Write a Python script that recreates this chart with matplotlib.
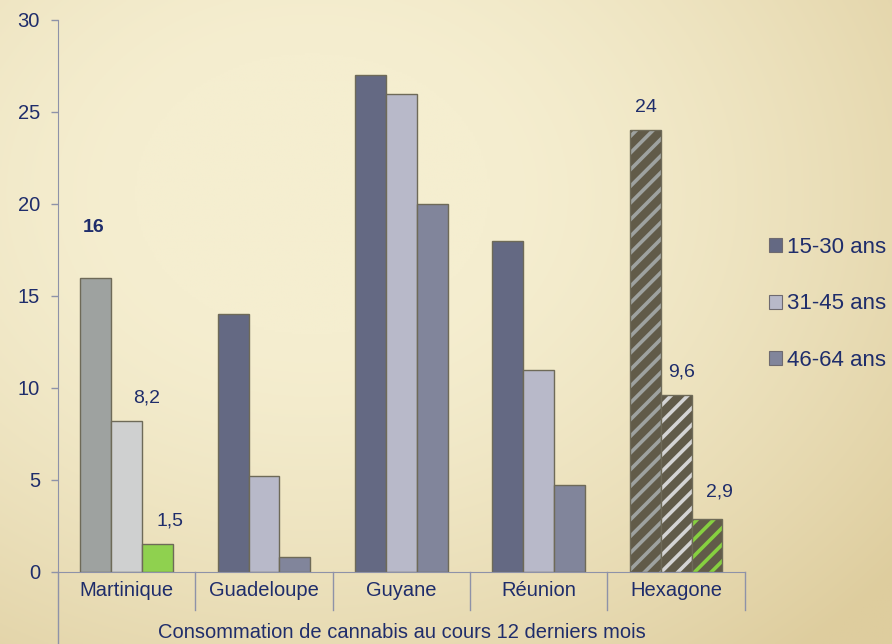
import numpy as np
import matplotlib.pyplot as plt
from matplotlib.patches import Patch

plt.rcParams['font.family'] = ['Liberation Sans', 'DejaVu Sans']
plt.rcParams['hatch.linewidth'] = 2.6

regions = ['Martinique', 'Guadeloupe', 'Guyane', 'Réunion', 'Hexagone']
series = ['15-30 ans', '31-45 ans', '46-64 ans']
age_15_30 = [16, 14, 27, 18, 24]
age_31_45 = [8.2, 5.2, 26, 11, 9.6]
age_46_64 = [1.5, 0.8, 20, 4.7, 2.9]
xlabel = 'Consommation de cannabis au cours 12 derniers mois'

# shown values: (region index, series index) -> text
shown = {(0, 0): '16', (0, 1): '8,2', (0, 2): '1,5',
         (4, 0): '24', (4, 1): '9,6', (4, 2): '2,9'}
label_offsets = {(0, 0): (-2, 50), (0, 1): (20, 23), (0, 2): (12, 23),
                 (4, 0): (1, 23), (4, 1): (5, 23), (4, 2): (12, 27)}

navy = '#1f2d6b'
base_colors = ['#646983', '#b8b9c9', '#81859b']
mart_colors = ['#9ea2a0', '#cfd0d0', '#8fd14f']
hex_stripes = ['#9ea2a0', '#d4d4d4', '#86d040']
hex_face = '#615b49'
edge = '#6e6a58'

fig = plt.figure(figsize=(8.92, 6.44), dpi=100)

# parchment background
bg = fig.add_axes([0, 0, 1, 1], zorder=-10)
yy, xx = np.mgrid[0:1:300j, 0:1:420j]
r = np.sqrt(((xx - 0.35) / 1.0) ** 2 + ((yy - 0.3) / 1.1) ** 2)
t = np.clip((r - 0.2) / 0.65, 0, 1) ** 1.4
light = np.array([245, 238, 208]) / 255
dark = np.array([222, 205, 158]) / 255
img = light[None, None, :] * (1 - t[..., None]) + dark[None, None, :] * t[..., None]
bg.imshow(img, aspect='auto', extent=[0, 1, 0, 1], origin='upper')
bg.axis('off')

ax = fig.add_axes([0.065, 0.112, 0.770, 0.857])
ax.set_facecolor('none')

x = np.arange(len(regions))
w = 0.225
data = [age_15_30, age_31_45, age_46_64]
for s in range(3):
    xs = x + (s - 1) * w
    for i, v in enumerate(data[s]):
        if i == 0:
            ax.bar(xs[i], v, w, color=mart_colors[s], edgecolor=edge, linewidth=1)
        elif i == 4:
            ax.bar(xs[i], v, w, color=hex_face, edgecolor=hex_stripes[s],
                   hatch='//', linewidth=0)
            ax.bar(xs[i], v, w, color='none', edgecolor=edge, linewidth=1)
        else:
            ax.bar(xs[i], v, w, color=base_colors[s], edgecolor=edge, linewidth=1)
        if (i, s) in shown:
            dx, dy = label_offsets[(i, s)]
            ax.annotate(shown[(i, s)], (xs[i], v), xytext=(dx, dy),
                        textcoords='offset pixels', ha='center', va='center',
                        fontsize=14, color=navy,
                        fontweight='bold' if (i, s) == (0, 0) else 'normal')

ax.set_xlim(-0.5, len(regions) - 0.5)
ax.set_ylim(0, 30)
ax.set_yticks(range(0, 31, 5))
ax.tick_params(axis='y', colors='#8e92a8', labelcolor=navy, labelsize=14.5,
               length=5, width=1, pad=8)
ax.set_xticks([])
for sp in ['top', 'right']:
    ax.spines[sp].set_visible(False)
ax.spines['left'].set_color('#8e92a8')
ax.spines['bottom'].set_color('#8e92a8')

# category table below axis
tr = ax.get_xaxis_transform()
for b in np.arange(len(regions) + 1) - 0.5:
    y0 = -0.131 if b == -0.5 else -0.069
    ax.plot([b, b], [0, y0], transform=tr, color='#8e92a8', lw=1, clip_on=False)
for i, name in enumerate(regions):
    ax.text(i, -0.033, name, transform=tr, ha='center', va='center',
            fontsize=14.5, color=navy)
ax.text(len(regions) / 2 - 0.5, -0.11, xlabel, transform=tr, ha='center',
        va='center', fontsize=14.5, color=navy)

handles = [Patch(facecolor=c, edgecolor='#6e6a70', linewidth=0.8) for c in base_colors]
fig.legend(handles, series, loc='center left', bbox_to_anchor=(0.862, 0.528),
           frameon=False, fontsize=16, handlelength=0.6, handleheight=0.6,
           handletextpad=0.2, labelspacing=1.6, labelcolor=navy,
           borderaxespad=0, borderpad=0)

fig.savefig('out.png', dpi=100)
